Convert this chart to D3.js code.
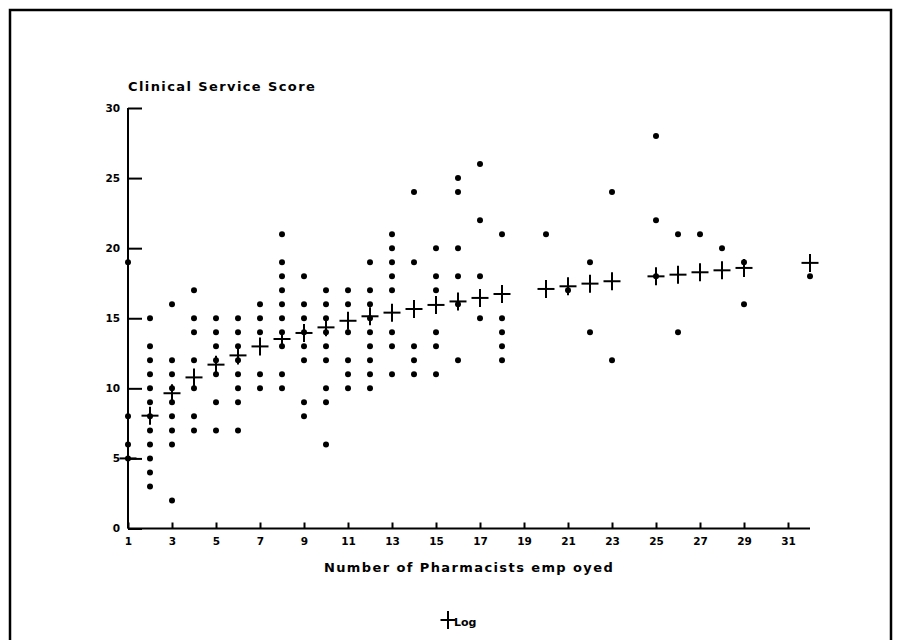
<!DOCTYPE html>
<html>
<head>
<meta charset="utf-8">
<script src="https://cdn.jsdelivr.net/npm/d3@7"></script>
<style>
  html, body { margin: 0; padding: 0; background: #fff; }
  svg { display: block; }
  text { font-family: "DejaVu Sans", sans-serif; font-weight: bold; fill: #000; }
</style>
</head>
<body>
<svg id="chart" width="900" height="640"></svg>
<script>
// Number of pharmacists employed (x) and the clinical service scores observed at each count
const pharmacistCounts = [1, 2, 3, 4, 5, 6, 7, 8, 9, 10, 11, 12, 13, 14, 15, 16, 17, 18, 20, 21, 22, 23, 25, 26, 27, 28, 29, 32];
const serviceScores = [
  [19, 8, 6, 5],
  [15, 13, 12, 11, 10, 9, 8, 7, 6, 5, 4, 3],
  [16, 12, 11, 10, 9, 8, 7, 6, 2],
  [17, 15, 14, 12, 10, 8, 7],
  [15, 14, 13, 12, 11, 9, 7],
  [15, 14, 13, 12, 11, 10, 9, 7],
  [16, 15, 14, 11, 10],
  [21, 19, 18, 17, 16, 15, 14, 13, 11, 10],
  [18, 16, 15, 14, 13, 12, 9, 8],
  [17, 16, 15, 14, 13, 12, 10, 9, 6],
  [17, 16, 14, 12, 11, 10],
  [19, 17, 16, 15, 14, 13, 12, 11, 10],
  [21, 20, 19, 18, 17, 14, 13, 11],
  [24, 19, 13, 12, 11],
  [20, 18, 17, 14, 13, 11],
  [25, 24, 20, 18, 16, 12],
  [26, 22, 18, 15],
  [21, 15, 14, 13, 12],
  [21],
  [17],
  [19, 14],
  [24, 12],
  [28, 22, 18],
  [21, 14],
  [21],
  [20],
  [19, 16],
  [18]
];

// Logarithmic fit evaluated at each pharmacist count
const logFitCounts = [1, 2, 3, 4, 5, 6, 7, 8, 9, 10, 11, 12, 13, 14, 15, 16, 17, 18, 20, 21, 22, 23, 25, 26, 27, 28, 29, 32];
const logFitScores = [5.0, 8.05, 9.65, 10.78, 11.69, 12.35, 12.99, 13.52, 13.95, 14.35, 14.82, 15.14, 15.4, 15.66, 15.95, 16.2, 16.45, 16.73, 17.09, 17.28, 17.47, 17.64, 17.99, 18.11, 18.28, 18.42, 18.59, 18.95];

// Axis tick labels
const xTickLabels = [1, 3, 5, 7, 9, 11, 13, 15, 17, 19, 21, 23, 25, 27, 29, 31];
const yTickLabels = [0, 5, 10, 15, 20, 25, 30];

const yTitle = "Clinical Service Score";
const xTitle = "Number of Pharmacists emp oyed";
const legendLabel = "Log";

const svg = d3.select("#chart");

// Outer frame
svg.append("rect")
  .attr("x", 10).attr("y", 10)
  .attr("width", 881).attr("height", 660)
  .attr("fill", "none").attr("stroke", "#000").attr("stroke-width", 2.5);

const x = d3.scaleLinear().domain([1, 32]).range([128, 810]);
const y = d3.scaleLinear().domain([0, 30]).range([528.5, 108]);

// X axis: ticks point up into the plot
const xAxis = svg.append("g")
  .attr("transform", `translate(0,${y(0)})`)
  .call(d3.axisBottom(x).tickValues(xTickLabels).tickSize(-6).tickPadding(9).tickFormat(d3.format("d")));
xAxis.select(".domain").attr("d", `M${x(1)},0H${x(32)}`).attr("stroke-width", 2);
xAxis.selectAll(".tick line").attr("stroke-width", 2);
xAxis.selectAll(".tick text")
  .attr("font-size", 10.5).attr("font-family", "DejaVu Sans").attr("font-weight", "bold");

// Y axis: ticks point right into the plot
const yAxis = svg.append("g")
  .attr("transform", `translate(${x(1)},0)`)
  .call(d3.axisLeft(y).tickValues(yTickLabels).tickSize(-14).tickPadding(8).tickFormat(d3.format("d")));
yAxis.select(".domain").attr("d", `M0,${y(0)}V${y(30)}`).attr("stroke-width", 2);
yAxis.selectAll(".tick line").attr("stroke-width", 2);
yAxis.selectAll(".tick text")
  .attr("font-size", 10.5).attr("font-family", "DejaVu Sans").attr("font-weight", "bold");

// Titles
svg.append("text")
  .attr("x", 128).attr("y", 91)
  .attr("font-size", 13).attr("letter-spacing", 1.4)
  .text(yTitle);

svg.append("text")
  .attr("x", 469).attr("y", 572)
  .attr("text-anchor", "middle")
  .attr("font-size", 13).attr("letter-spacing", 1.4)
  .text(xTitle);

// Observed scores
const points = pharmacistCounts.flatMap((c, i) => serviceScores[i].map(s => ({ c, s })));
svg.append("g")
  .selectAll("circle")
  .data(points)
  .join("circle")
  .attr("cx", d => x(d.c))
  .attr("cy", d => y(d.s))
  .attr("r", 3)
  .attr("fill", "#000");

// Log fit drawn as plus markers
const half = 8.5;
const fit = logFitCounts.map((c, i) => ({ c, s: logFitScores[i] }));
const crosses = svg.append("g").attr("stroke", "#000").attr("stroke-width", 2);
crosses.selectAll("line.h")
  .data(fit).join("line").attr("class", "h")
  .attr("x1", d => x(d.c) - half).attr("x2", d => x(d.c) + half)
  .attr("y1", d => y(d.s)).attr("y2", d => y(d.s));
crosses.selectAll("line.v")
  .data(fit).join("line").attr("class", "v")
  .attr("x1", d => x(d.c)).attr("x2", d => x(d.c))
  .attr("y1", d => y(d.s) - half - 0.5).attr("y2", d => y(d.s) + half + 0.5);

// Legend
const legend = svg.append("g").attr("transform", "translate(448,620)");
legend.append("line").attr("x1", -7.5).attr("x2", 7.5).attr("y1", 0).attr("y2", 0)
  .attr("stroke", "#000").attr("stroke-width", 2);
legend.append("line").attr("x1", 0).attr("x2", 0).attr("y1", -9).attr("y2", 9)
  .attr("stroke", "#000").attr("stroke-width", 2);
legend.append("text").attr("x", 6).attr("y", 6)
  .attr("font-size", 11)
  .text(legendLabel);
</script>
</body>
</html>
